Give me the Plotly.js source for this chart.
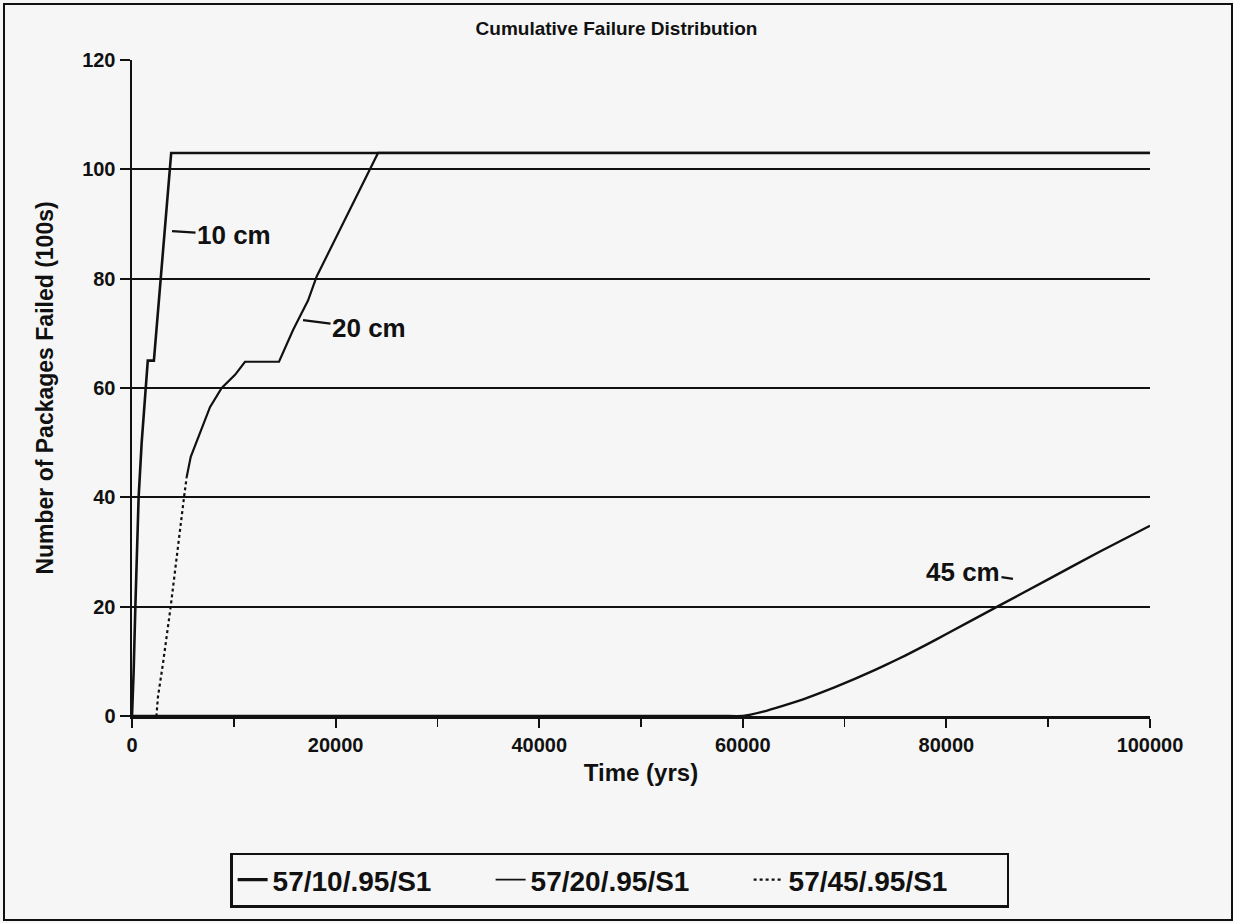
<!DOCTYPE html>
<html>
<head>
<meta charset="utf-8">
<script src="https://cdn.plot.ly/plotly-3.0.1.min.js"></script>
<style>
  html, body { margin: 0; padding: 0; background: #f6f6f6; }
  #frame { position: absolute; left: 3px; top: 3px; width: 1226px; height: 914px; border: 2px solid #111; box-sizing: content-box; }
  #chart { position: absolute; left: 0; top: 0; width: 1233px; height: 923px; }
</style>
</head>
<body>
<div id="frame"></div>
<div id="chart"></div>
<script>
// ---- data ----
const legendNames = ["57/10/.95/S1", "57/20/.95/S1", "57/45/.95/S1"];

// 10 cm cover
const t10 = [0, 80, 160, 330, 650, 950, 1310, 1550, 2150, 2850, 3850, 100000];
const y10 = [0, 3, 8, 20, 40, 50, 60, 65, 65, 80, 103, 103];

// 20 cm cover (lower part drawn dotted in the reference)
const t20dot = [0, 2400, 2550, 3050, 3800, 4420, 5110, 5370];
const y20dot = [0, 0, 3.5, 9.7, 20, 30, 40, 43.7];
const t20 = [5370, 5770, 7660, 8810, 10120, 11100, 14440, 15820, 17290, 18140, 24170, 100000];
const y20 = [43.7, 47.4, 56.5, 60, 62.4, 64.8, 64.8, 70.6, 76, 80.4, 103, 103];

// 45 cm cover
const t45 = [0, 50000, 58000, 60000, 62000, 64000, 66000, 68000, 70000, 72000, 74000, 76000, 78000, 80000, 85000, 90000, 95000, 100000];
const y45 = [0, 0, 0, 0, 0.8, 1.9, 3.1, 4.5, 6.0, 7.6, 9.3, 11.1, 13.0, 15.0, 20.0, 25.0, 30.0, 34.8];

const curveLabels = ["10 cm", "20 cm", "45 cm"];
const xTickVals = [0, 20000, 40000, 60000, 80000, 100000];
const yTickVals = [0, 20, 40, 60, 80, 100, 120];

const ink = "#111111";
const FONT = "Liberation Sans, Arial, sans-serif";

const traces = [
  {x: t10, y: y10, mode: "lines", line: {color: ink, width: 2.6}, showlegend: false, hoverinfo: "skip"},
  {x: t20dot, y: y20dot, mode: "lines", line: {color: ink, width: 2.2, dash: "dot"}, showlegend: false, hoverinfo: "skip"},
  {x: t20, y: y20, mode: "lines", line: {color: ink, width: 2.2}, showlegend: false, hoverinfo: "skip"},
  {x: t45, y: y45, mode: "lines", line: {color: ink, width: 2.4, shape: "spline", smoothing: 0.5}, showlegend: false, hoverinfo: "skip"},
  // legend entries
  {x: [null], y: [null], mode: "lines", name: legendNames[0], line: {color: ink, width: 3.2}},
  {x: [null], y: [null], mode: "lines", name: legendNames[1], line: {color: ink, width: 1.8}},
  {x: [null], y: [null], mode: "lines", name: legendNames[2], line: {color: ink, width: 2.2, dash: "dot"}}
];

const layout = {
  width: 1233, height: 923,
  paper_bgcolor: "rgba(0,0,0,0)",
  plot_bgcolor: "#f6f6f6",
  margin: {l: 132, r: 83, t: 60, b: 207},
  font: {family: FONT, color: ink},
  title: {
    text: "Cumulative Failure Distribution",
    font: {family: FONT, size: 19, weight: "bold", color: ink},
    x: 0.5, xanchor: "center", xref: "container",
    y: 0.9697, yanchor: "middle", yref: "container"
  },
  xaxis: {
    range: [0, 100000], tickvals: xTickVals, ticktext: xTickVals.map(String),
    ticks: "outside", ticklen: 9, tickwidth: 2, tickcolor: ink,
    minor: {dtick: 10000, ticks: "outside", ticklen: 8, tickwidth: 1.6, tickcolor: ink, showgrid: false},
    showgrid: false, zeroline: false,
    showline: true, linecolor: ink, linewidth: 2.5,
    tickfont: {family: FONT, size: 20, weight: "bold", color: ink},
    title: {text: "Time (yrs)", font: {family: FONT, size: 24, weight: "bold", color: ink}, standoff: 10}
  },
  yaxis: {
    range: [0, 120], tickvals: yTickVals,
    ticks: "outside", ticklen: 10, tickwidth: 2, tickcolor: ink,
    showgrid: true, gridcolor: ink, gridwidth: 2.2,
    zeroline: false,
    showline: true, linecolor: ink, linewidth: 2.5,
    tickfont: {family: FONT, size: 20, weight: "bold", color: ink},
    title: {text: "Number of Packages Failed (100s)", font: {family: FONT, size: 23, weight: "bold", color: ink}, standoff: 22}
  },
  showlegend: true,
  legend: {
    orientation: "h", x: 0.479, xanchor: "center", y: -0.25, yanchor: "middle",
    bgcolor: "#f6f6f6", bordercolor: ink, borderwidth: 2.5,
    font: {family: FONT, size: 28, weight: "bold", color: ink},
    entrywidth: 213, entrywidthmode: "pixels", tracegroupgap: 0
  },
  annotations: [
    {x: 3930, y: 88.7, xref: "x", yref: "y", text: curveLabels[0], showarrow: true, arrowhead: 0, arrowwidth: 2.2, arrowcolor: ink,
     ax: 62, ay: 4, standoff: 0, font: {family: FONT, size: 26, weight: "bold", color: ink}},
    {x: 16800, y: 72.4, xref: "x", yref: "y", text: curveLabels[1], showarrow: true, arrowhead: 0, arrowwidth: 2.2, arrowcolor: ink,
     ax: 66, ay: 8, standoff: 0, font: {family: FONT, size: 26, weight: "bold", color: ink}},
    {x: 86540, y: 25.1, xref: "x", yref: "y", text: curveLabels[2], showarrow: true, arrowhead: 0, arrowwidth: 2.2, arrowcolor: ink,
     ax: -50, ay: -7, standoff: 0, font: {family: FONT, size: 26, weight: "bold", color: ink}}
  ]
};

Plotly.newPlot("chart", traces, layout, {displayModeBar: false, staticPlot: true});
</script>
</body>
</html>
